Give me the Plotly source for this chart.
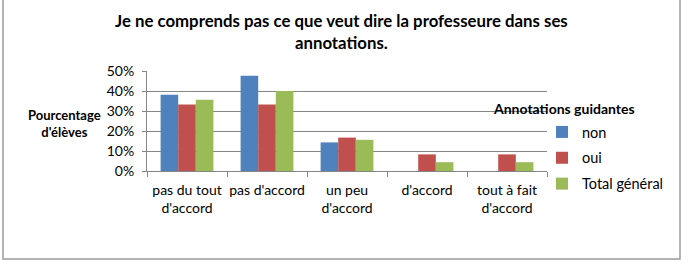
import plotly.graph_objects as go

categories = ["pas du tout<br>d'accord", "pas d'accord", "un peu<br>d'accord", "d'accord", "tout à fait<br>d'accord"]
series_names = ["non", "oui", "Total général"]
non_vals = [0.381, 0.476, 0.143, 0.0, 0.0]
oui_vals = [0.333, 0.333, 0.167, 0.083, 0.083]
total_vals = [0.356, 0.400, 0.156, 0.044, 0.044]
colors = ["#4F81BD", "#C0504D", "#9BBB59"]
ytick_vals = [0, 0.1, 0.2, 0.3, 0.4, 0.5]
ytick_text = ["0%", "10%", "20%", "30%", "40%", "50%"]

FONT = "Lato"
W, H = 692, 266
L, R, T, B = 147, 145, 71, 95
pw, ph = W - L - R, H - T - B

def px_x(x):
    return (x - L) / pw

def px_y(y):
    return (H - B - y) / ph

fig = go.Figure()
for i, (name, vals) in enumerate(zip(series_names, [non_vals, oui_vals, total_vals])):
    fig.add_trace(go.Bar(x=categories, y=vals, name=name, marker_color=colors[i],
                         marker_line_width=0, legendgroup=name))

fig.update_layout(
    width=W, height=H,
    margin=dict(l=L, r=R, t=T, b=B),
    paper_bgcolor="white", plot_bgcolor="white",
    barmode="group", bargap=0.34, bargroupgap=0,
    font=dict(family=FONT, size=14, color="#000000"),
    showlegend=True,
    legend=dict(x=px_x(542), y=px_y(116), xanchor="left", yanchor="top",
                font=dict(family=FONT, size=14.5, color="#000"),
                tracegroupgap=4, itemwidth=30, bgcolor="rgba(0,0,0,0)"),
    xaxis=dict(showline=True, linecolor="#868686", linewidth=1, ticks="outside",
               tickson="boundaries", ticklen=5, tickcolor="#868686",
               tickfont=dict(family=FONT, size=14), showgrid=False,
               tickangle=0, ticklabelstandoff=6),
    yaxis=dict(range=[0, 0.5], tickvals=ytick_vals, ticktext=ytick_text,
               showline=True, linecolor="#868686", linewidth=1, ticks="outside",
               ticklen=4, tickcolor="#868686", showgrid=True, gridcolor="#868686",
               gridwidth=1, zeroline=False, tickfont=dict(family=FONT, size=14),
               ticklabelstandoff=5),
    annotations=[
        dict(text="<b>Je ne comprends pas ce que veut dire la professeure dans ses<br>annotations.</b>",
             x=px_x(341), y=px_y(31), xref="paper", yref="paper", showarrow=False,
             font=dict(family=FONT, size=16.8), xanchor="center", yanchor="middle"),
        dict(text="<b>Pourcentage<br>d'élèves</b>", x=px_x(64), y=px_y(123),
             xref="paper", yref="paper", showarrow=False,
             font=dict(family=FONT, size=13), xanchor="center", yanchor="middle"),
        dict(text="<b>Annotations guidantes</b>", x=px_x(564), y=px_y(108),
             xref="paper", yref="paper", showarrow=False,
             font=dict(family=FONT, size=14), xanchor="center", yanchor="middle"),
    ],
    shapes=[dict(type="rect", xref="paper", yref="paper",
                 x0=px_x(3), x1=px_x(680), y0=px_y(259), y1=px_y(-5),
                 line=dict(color="#9a9a9a", width=1.5), fillcolor="rgba(0,0,0,0)", layer="below")],
)

fig.write_html("out.html")
